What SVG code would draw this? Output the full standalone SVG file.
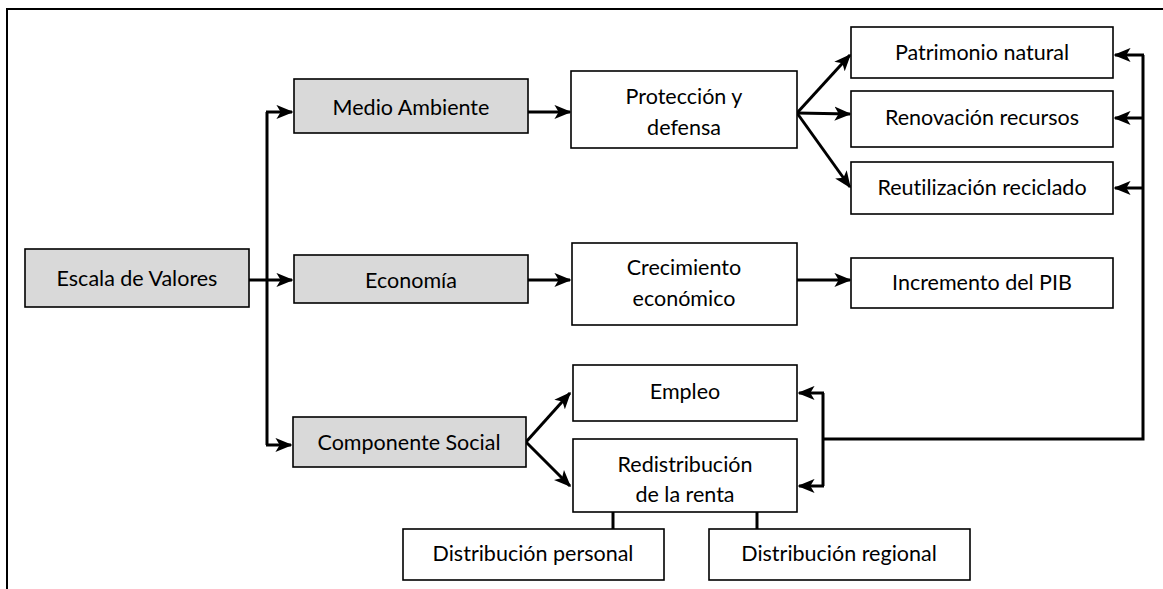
<svg xmlns="http://www.w3.org/2000/svg" width="1163" height="589" viewBox="0 0 1163 589">
<style>
.box{fill:#fff;stroke:#000;stroke-width:1.6}
.gray{fill:#d9d9d9}
.t{font-family:"Lato","Liberation Sans",sans-serif;font-size:21.5px;fill:#000;text-anchor:middle;font-variant-ligatures:none;font-feature-settings:"liga" 0}
.c{fill:none;stroke:#000;stroke-width:3;stroke-linejoin:miter}
</style>
<defs>
<marker id="ah" viewBox="0 0 12 10" refX="11" refY="5" markerWidth="17" markerHeight="15" markerUnits="userSpaceOnUse" orient="auto">
<path d="M0,0 L12,5 L0,10 L3,5 z" fill="#000"/>
</marker>
</defs>
<rect width="1163" height="589" fill="#fff"/>
<path d="M7,589 V9 H1163" fill="none" stroke="#000" stroke-width="2"/>

<g id="connectors">
<path class="c" d="M249,280 H292" marker-end="url(#ah)"/>
<path class="c" d="M267,112 V445"/>
<path class="c" d="M266,112 H292" marker-end="url(#ah)"/>
<path class="c" d="M266,445 H291" marker-end="url(#ah)"/>
<path class="c" d="M528,112 H570" marker-end="url(#ah)"/>
<path class="c" d="M528,280 H570" marker-end="url(#ah)"/>
<path class="c" d="M797,280 H850" marker-end="url(#ah)"/>
<path class="c" d="M797,113 L850,55" marker-end="url(#ah)"/>
<path class="c" d="M797,113 L850,114" marker-end="url(#ah)"/>
<path class="c" d="M797,113 L850,187" marker-end="url(#ah)"/>
<path class="c" d="M526,442 L570,393" marker-end="url(#ah)"/>
<path class="c" d="M526,442 L570,486" marker-end="url(#ah)"/>
<path class="c" d="M1143,55 V439 H823"/>
<path class="c" d="M1144,55 H1115" marker-end="url(#ah)"/>
<path class="c" d="M1144,118 H1115" marker-end="url(#ah)"/>
<path class="c" d="M1144,188 H1115" marker-end="url(#ah)"/>
<path class="c" d="M823,393 V486"/>
<path class="c" d="M824,393 H799" marker-end="url(#ah)"/>
<path class="c" d="M824,486 H799" marker-end="url(#ah)"/>
<path class="c" d="M613,512 V529"/>
<path class="c" d="M757,512 V529"/>
</g>

<g id="escala"><rect class="box gray" x="25" y="249" width="224" height="58"/><text class="t" x="137" y="286">Escala de Valores</text></g>
<g id="medio"><rect class="box gray" x="294" y="79" width="234" height="54"/><text class="t" x="411" y="115">Medio Ambiente</text></g>
<g id="economia"><rect class="box gray" x="294" y="255" width="234" height="48"/><text class="t" x="411" y="288">Economía</text></g>
<g id="social"><rect class="box gray" x="293" y="417" width="233" height="50"/><text class="t" x="409" y="450">Componente Social</text></g>
<g id="proteccion"><rect class="box" x="571" y="71" width="226" height="77"/><text class="t" x="684" y="104">Protección y</text><text class="t" x="684" y="135">defensa</text></g>
<g id="crecimiento"><rect class="box" x="572" y="243" width="225" height="82"/><text class="t" x="684" y="275">Crecimiento</text><text class="t" x="684" y="306">económico</text></g>
<g id="patrimonio"><rect class="box" x="851" y="27" width="262" height="51"/><text class="t" x="982" y="60">Patrimonio natural</text></g>
<g id="renovacion"><rect class="box" x="851" y="91" width="262" height="56"/><text class="t" x="982" y="125">Renovación recursos</text></g>
<g id="reutilizacion"><rect class="box" x="851" y="162" width="262" height="52"/><text class="t" x="982" y="195">Reutilización reciclado</text></g>
<g id="incremento"><rect class="box" x="851" y="258" width="262" height="50"/><text class="t" x="982" y="290">Incremento del PIB</text></g>
<g id="empleo"><rect class="box" x="573" y="365" width="224" height="56"/><text class="t" x="685" y="399">Empleo</text></g>
<g id="redistribucion"><rect class="box" x="573" y="439" width="224" height="73"/><text class="t" x="685" y="472">Redistribución</text><text class="t" x="685" y="502">de la renta</text></g>
<g id="personal"><rect class="box" x="403" y="529" width="261" height="51"/><text class="t" x="533" y="561">Distribución personal</text></g>
<g id="regional"><rect class="box" x="709" y="529" width="261" height="51"/><text class="t" x="839" y="561">Distribución regional</text></g>
</svg>
